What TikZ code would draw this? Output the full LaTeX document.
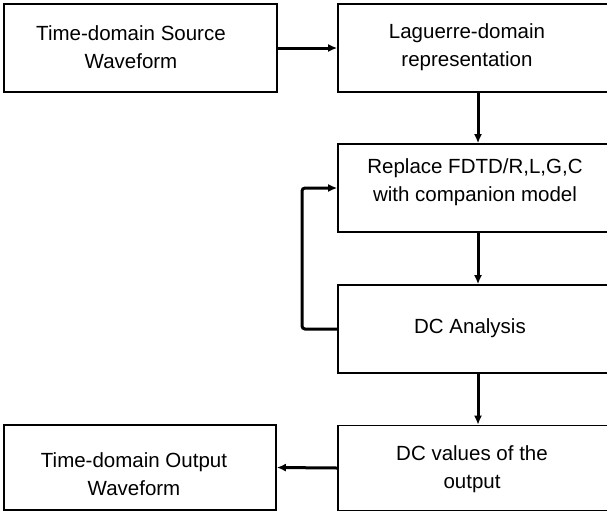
\documentclass[tikz,border=0pt]{standalone}
\usepackage{fontspec}
\setmainfont{Liberation Sans}
\usetikzlibrary{arrows.meta}
\tikzset{
  blk/.style={draw=black, line width=1.6pt, minimum height=88pt, inner sep=0pt},
  lbl/.style={align=center, font=\fontsize{20.5}{27.5}\selectfont, inner sep=0pt},
  flow/.style={draw=black, line width=3pt, -{Latex[length=9pt,width=8pt]}},
}
\begin{document}
\begin{tikzpicture}[x=1pt, y=-1pt]
  \useasboundingbox (0,0) rectangle (607,512);
  \clip (0,0) rectangle (607,512);

  % boxes (the right column runs past the page edge)
  \node[blk, minimum width=273pt] (src) at (140.5,48) {};
  \node[blk, minimum width=280pt] (lag) at (478,48) {};
  \node[blk, minimum width=280pt] (rep) at (478,188) {};
  \node[blk, minimum width=280pt] (dca) at (478,329) {};
  \node[blk, minimum width=280pt, minimum height=85pt] (dcv) at (478,468) {};
  \node[blk, minimum width=272pt, minimum height=85pt] (out) at (140,467.5) {};

  % labels
  \node[lbl] (tsrc) at (131,47) {Time-domain Source\\Waveform};
  \node[lbl] (tlag) at (467,47) {Laguerre-domain\\representation};
  \node[lbl] (trep) at (475,182) {Replace FDTD/R,L,G,C\\with companion model};
  \node[lbl] (tdca) at (470,328) {DC Analysis};
  \node[lbl] (tdcv) at (472,469) {DC values of the\\output};
  \node[lbl] (tout) at (134,474) {Time-domain Output\\Waveform};

  % connectors
  \draw[flow] (src.east) -- (lag.west);
  \draw[flow] (lag.south) -- (rep.north);
  \draw[flow] (rep.south) -- (dca.north);
  \draw[flow] (dca.south) -- (dcv.north);
  \draw[flow] (dcv.west) -- (out.east);
  \coordinate (fb) at (302,0);
  \draw[flow, rounded corners=3pt] (dca.west) -- (dca.west -| fb) -- (rep.west -| fb) -- (rep.west);
\end{tikzpicture}
\end{document}
